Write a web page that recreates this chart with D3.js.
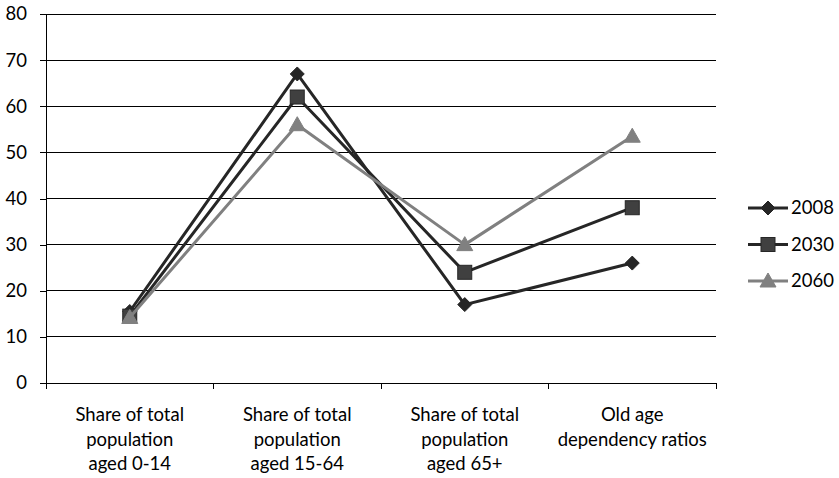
<!DOCTYPE html>
<html><head><meta charset="utf-8">
<script src="https://cdn.jsdelivr.net/npm/d3@7"></script>
<style>body{margin:0;background:#fff}svg{display:block}text{font-family:Lato,"Open Sans",sans-serif;fill:#000}</style>
</head><body><svg id="c" width="839" height="478"></svg>
<script>
const categories = [["Share of total","population","aged 0-14"],["Share of total","population","aged 15-64"],["Share of total","population","aged 65+"],["Old age","dependency ratios"]];
const seriesNames = ["2008","2030","2060"];
const v2008 = [15.5, 67, 17, 26];
const v2030 = [14.5, 62, 24, 38];
const v2060 = [14.2, 56, 30, 53.5];
const yTicks = [0,10,20,30,40,50,60,70,80];

const series = [
  {name:seriesNames[0], values:v2008, line:"#262626", fill:"#262626", stroke:"#262626", shape:"diamond"},
  {name:seriesNames[1], values:v2030, line:"#262626", fill:"#404040", stroke:"#262626", shape:"square"},
  {name:seriesNames[2], values:v2060, line:"#808080", fill:"#808080", stroke:"#808080", shape:"triangle"}
];

const FS = "18.5px";
const svg = d3.select("#c");
const L=46, R=716, T=14, B=383;
const x = d3.scaleBand().domain(d3.range(categories.length)).range([L,R]);
const y = d3.scaleLinear().domain([0,80]).range([B,T]);

svg.append("g").selectAll("line").data(yTicks.filter(d=>d>0)).join("line")
  .attr("x1",L).attr("x2",R).attr("y1",d=>y(d)).attr("y2",d=>y(d))
  .attr("stroke","#000").attr("stroke-width",1).attr("shape-rendering","crispEdges");

const ya = svg.append("g").attr("transform",`translate(${L},0)`)
  .call(d3.axisLeft(y).tickValues(yTicks).tickSize(6).tickPadding(13));
ya.select(".domain").attr("stroke","#000").attr("shape-rendering","crispEdges");
ya.selectAll(".tick line").attr("stroke","#000").attr("shape-rendering","crispEdges");
ya.selectAll("text").style("font-size",FS).attr("fill","#000").style("font-family","Lato, 'Open Sans', sans-serif");

const xa = svg.append("g").attr("transform",`translate(0,${B})`)
  .call(d3.axisBottom(x).tickValues([]).tickSizeOuter(0));
xa.select(".domain").attr("stroke","#000").attr("shape-rendering","crispEdges");
svg.append("g").selectAll("line").data(d3.range(categories.length+1)).join("line")
  .attr("x1",d=>L+d*x.step()).attr("x2",d=>L+d*x.step()).attr("y1",B).attr("y2",B+6)
  .attr("stroke","#000").attr("shape-rendering","crispEdges");

const labels = svg.append("g");
categories.forEach((lines,i)=>{
  const t = labels.append("text").attr("text-anchor","middle").style("font-size",FS);
  lines.forEach((s,j)=>{
    t.append("tspan").attr("x",x(i)+x.bandwidth()/2).attr("y",421+j*24.5).text(s);
  });
});

const cx = i=>x(i)+x.bandwidth()/2;
const line = d3.line().x((d,i)=>cx(i)).y(d=>y(d));

function marker(g, shape, px, py){
  if(shape==="diamond"){
    g.append("path").attr("d",`M${px},${py-7}L${px+7},${py}L${px},${py+7}L${px-7},${py}Z`);
  } else if(shape==="square"){
    g.append("rect").attr("x",px-7).attr("y",py-7).attr("width",14).attr("height",14);
  } else {
    g.append("path").attr("d",`M${px},${py-8}L${px+8},${py+6}L${px-8},${py+6}Z`);
  }
}

series.forEach(s=>{
  svg.append("path").datum(s.values).attr("d",line)
    .attr("fill","none").attr("stroke",s.line).attr("stroke-width",3).attr("stroke-linejoin","round");
  const g = svg.append("g").attr("fill",s.fill).attr("stroke",s.stroke).attr("stroke-width",1);
  s.values.forEach((v,i)=>marker(g,s.shape,cx(i),y(v)));
});

const lg = svg.append("g");
series.forEach((s,i)=>{
  const ly = 208 + i*36.5;
  lg.append("line").attr("x1",748).attr("x2",788).attr("y1",ly).attr("y2",ly)
    .attr("stroke",s.line).attr("stroke-width",3);
  const g = lg.append("g").attr("fill",s.fill).attr("stroke",s.stroke);
  marker(g,s.shape,768,ly);
  lg.append("text").attr("x",791).attr("y",ly+6).style("font-size",FS).text(s.name);
});
</script></body></html>
